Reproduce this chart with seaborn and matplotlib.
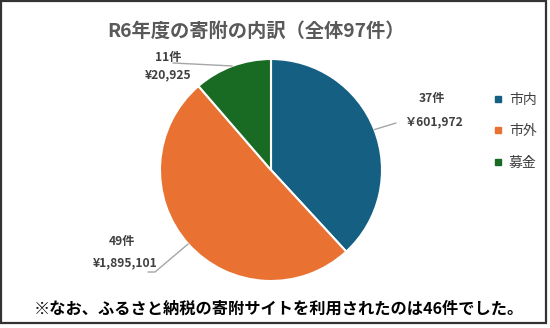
import numpy as np
import matplotlib
matplotlib.use("Agg")
import matplotlib.pyplot as plt
from matplotlib.patches import Rectangle
from matplotlib.lines import Line2D
import seaborn as sns

categories = ["市内", "市外", "募金"]
counts = [37, 49, 11]
amount_labels = ["￥601,972", "¥1,895,101", "¥20,925"]
count_labels = ["37件", "49件", "11件"]
title = "R6年度の寄附の内訳（全体97件）"
footnote = "※なお、ふるさと納税の寄附サイトを利用されたのは46件でした。"
colors = ["#156082", "#E97132", "#196B24"]

sns.set_theme(style="white")
plt.rcParams['font.family'] = ['Noto Sans CJK JP', 'DejaVu Sans']

W, H = 550, 328
fig = plt.figure(figsize=(5.5, 3.28), dpi=100)
fig.patch.set_facecolor("white")

cx, cy, r = 271, 170, 111
ax = fig.add_axes([(cx - r) / W, 1 - (cy + r) / H, 2 * r / W, 2 * r / H])
wedges, _ = ax.pie(counts, colors=colors, startangle=90, counterclock=False,
                   wedgeprops=dict(edgecolor="white", linewidth=1.5), radius=1)
ax.set_xlim(-1, 1)
ax.set_ylim(-1, 1)
ax.set_aspect("auto")
ax.axis("off")

def fx(px):
    return px / W
def fy(py):
    return 1 - py / H

label_pos = [
    ((432, 99), (433, 122), (396, 123)),
    ((122, 242), (125, 263), [(155, 272), (148, 272)]),
    ((168, 57), (168, 75), (173, 63)),
]
txt_col = "#404040"
for w, (cpos, apos, lend), ctext, atext in zip(wedges, label_pos, count_labels, amount_labels):
    ang = np.deg2rad((w.theta1 + w.theta2) / 2)
    ex, ey = np.cos(ang), np.sin(ang)
    disp = ax.transData.transform((ex, ey))
    fpt = fig.transFigure.inverted().transform(disp)
    pts = lend if isinstance(lend, list) else [lend]
    xs = [fpt[0]] + [fx(p[0]) for p in pts]
    ys = [fpt[1]] + [fy(p[1]) for p in pts]
    fig.add_artist(Line2D(xs, ys, color="#A6A6A6", lw=1.0, transform=fig.transFigure))
    fig.text(fx(cpos[0]), fy(cpos[1]), ctext, ha="center", va="center",
             fontsize=8.7, fontweight="bold", color=txt_col)
    fig.text(fx(apos[0]), fy(apos[1]), atext, ha="center", va="center",
             fontsize=8.7, fontweight="bold", color=txt_col)

fig.text(fx(256), fy(31), title, ha="center", va="center", fontsize=13.9,
         fontweight="bold", color="#595959")
fig.text(fx(279), fy(309), footnote, ha="center", va="center", fontsize=11.7,
         fontweight="bold", color="black")

handles = [Line2D([0], [0], marker="s", color="none", markerfacecolor=c,
                  markeredgecolor=c, markersize=4.5) for c in colors]
fig.legend(handles, categories, loc="center left",
           bbox_to_anchor=(fx(481), fy(131)), frameon=False, fontsize=10,
           labelspacing=1.25, handlelength=0.6, handletextpad=0.5,
           labelcolor="#404040")

fig.add_artist(Rectangle((fx(1), fy(323)), fx(545), (322) / H, fill=False,
                         edgecolor="#333333", lw=1.6, transform=fig.transFigure))

fig.savefig("out.png", dpi=100, facecolor="white")
